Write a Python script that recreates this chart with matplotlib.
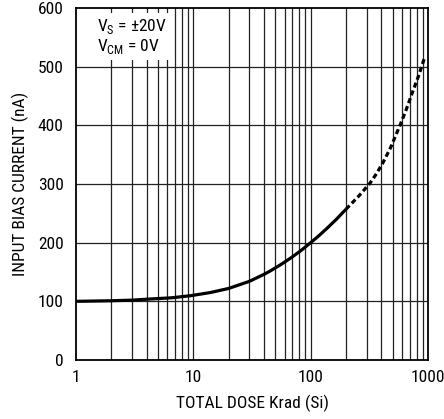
import matplotlib
matplotlib.use('Agg')
import matplotlib.pyplot as plt
from matplotlib import font_manager

# values (Krad, nA)
dose_solid = [1, 2, 3, 4.3, 6.5, 9.4, 14, 20, 30, 40, 45, 55, 66.7, 82, 100, 117, 137, 165, 200]
bias_solid = [100, 101, 102, 104, 106, 109.5, 115, 122, 134, 146, 151.5, 162, 173, 186, 200, 211.5, 224, 239.5, 257]
dose_dash = [200, 256, 280, 322, 365, 415, 480, 577, 650, 733, 830, 930]
bias_dash = [257, 279, 288, 302, 318, 337, 362, 400, 426, 455, 484, 514]

x_ticks = [1, 10, 100, 1000]
x_tick_labels = ['1', '10', '100', '1000']
y_ticks = [0, 100, 200, 300, 400, 500, 600]

names = {f.name for f in font_manager.fontManager.ttflist}
font = 'Roboto Condensed' if 'Roboto Condensed' in names else 'Liberation Sans'
plt.rcParams['font.family'] = [font, 'DejaVu Sans']
plt.rcParams['mathtext.fontset'] = 'custom'
plt.rcParams['mathtext.rm'] = font

fig = plt.figure(figsize=(4.44, 4.19), dpi=100)
ax = fig.add_axes([76/444, 1 - 360/419, 352/444, 352/419])

ax.set_xscale('log')
ax.set_xlim(1, 1000)
ax.set_ylim(0, 600)

# grid: every step within each decade and every 100 nA
for dec in [1, 10, 100]:
    for m in range(2, 10):
        ax.axvline(dec * m, color='#222222', lw=0.9, zorder=1)
for xv in [10, 100]:
    ax.axvline(xv, color='#222222', lw=0.9, zorder=1)
for yv in y_ticks[1:-1]:
    ax.axhline(yv, color='#222222', lw=0.9, zorder=1)

ax.plot(dose_solid, bias_solid, color='black', lw=2.3,
        solid_capstyle='butt', solid_joinstyle='round', zorder=3)
ax.plot(dose_dash, bias_dash, color='black', lw=2.3,
        dashes=(1.6, 1.0), dash_capstyle='butt', zorder=3)

ax.set_xticks(x_ticks)
ax.set_xticklabels(x_tick_labels)
ax.minorticks_off()
ax.set_yticks(y_ticks)
ax.tick_params(length=0, labelsize=12.5, pad=7)
ax.tick_params(axis='y', pad=9)

for s in ax.spines.values():
    s.set_linewidth(1.3)

ax.set_xlabel('TOTAL DOSE Krad (Si)', fontsize=12.5, labelpad=7)
ax.set_ylabel('INPUT BIAS CURRENT (nA)', fontsize=12.5, labelpad=6)

ax.text(0.06, 0.975, 'V$_\\mathregular{S}$ = ±20V\nV$_\\mathregular{CM}$ = 0V',
        transform=ax.transAxes, fontsize=12.5, va='top', ha='left',
        linespacing=1.05, zorder=4,
        bbox=dict(facecolor='white', edgecolor='none', pad=3))

fig.savefig('out.png', dpi=100)
